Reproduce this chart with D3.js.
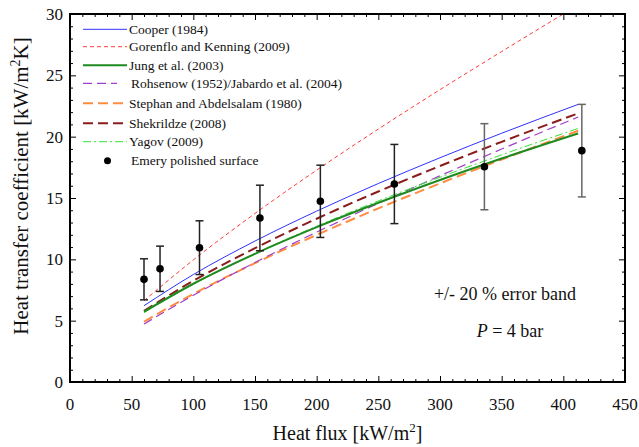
<!DOCTYPE html>
<html lang="en">
<head>
    <meta charset="UTF-8">
    <title>Heat transfer coefficient vs heat flux</title>
    <style>
        body { margin: 0; background: #fff; }
        svg text { font-family: "Liberation Serif", "Tinos", "Times New Roman", "DejaVu Serif", serif; fill: #111; }
        .curve { fill: none; }
    </style>
</head>
<body>
    <svg id="chart" width="639" height="447" font-family="Liberation Serif, DejaVu Serif, serif"></svg>

    <script src="https://d3js.org/d3.v7.min.js"></script>
    <script>
        // heat flux grid used for the correlation curves [kW/m2]
        const fluxGrid = [60, 100, 150, 200, 250, 300, 350, 412];
        const gorenfloFlux = [60, 100, 150, 200, 250, 300, 350, 400];

        // correlation values [kW/m2K]
        const cooper = [6.22, 8.76, 11.49, 13.93, 16.18, 18.28, 20.28, 22.63];
        const gorenflo = [6.63, 9.95, 13.74, 17.27, 20.62, 23.83, 26.94, 30.0];
        const jung = [5.73, 8.01, 10.45, 12.62, 14.61, 16.47, 18.22, 20.26];
        const rohsenow = [4.73, 7.07, 9.74, 12.22, 14.56, 16.81, 18.99, 21.6];
        const stephan = [4.92, 7.18, 9.69, 11.99, 14.15, 16.19, 18.14, 20.48];
        const shekrildze = [5.8, 8.25, 10.91, 13.31, 15.53, 17.61, 19.58, 21.9];
        const yagov = [5.65, 7.97, 10.47, 12.70, 14.76, 16.69, 18.52, 20.67];

        // measured points, emery polished surface
        const expFlux = [60, 73, 105, 154, 203, 263, 336, 415];
        const expHtc = [8.37, 9.23, 10.95, 13.37, 14.73, 16.14, 17.55, 18.86];
        const errorBand = 0.2;

        const xTicks = [0, 50, 100, 150, 200, 250, 300, 350, 400, 450];
        const yTicks = [0, 5, 10, 15, 20, 25, 30];

        const series = [
            { name: "Cooper (1984)", x: fluxGrid, y: cooper, color: "#3030ff", width: 1, dash: null },
            { name: "Gorenflo and Kenning (2009)", x: gorenfloFlux, y: gorenflo, color: "#ff3b3b", width: 1, dash: "4,3" },
            { name: "Jung et al. (2003)", x: fluxGrid, y: jung, color: "#1f8a1f", width: 2, dash: null },
            { name: "Rohsenow (1952)/Jabardo et al. (2004)", x: fluxGrid, y: rohsenow, color: "#a040c8", width: 1.2, dash: "9,5" },
            { name: "Stephan and Abdelsalam (1980)", x: fluxGrid, y: stephan, color: "#ff8c40", width: 2, dash: "10,5" },
            { name: "Shekrildze (2008)", x: fluxGrid, y: shekrildze, color: "#8b1c1c", width: 2, dash: "10,5" },
            { name: "Yagov (2009)", x: fluxGrid, y: yagov, color: "#33e633", width: 1, dash: "8,3,2,3" }
        ];

        const svg = d3.select("#chart");
        const plotL = 70, plotR = 625, plotT = 14, plotB = 382;

        const x = d3.scaleLinear().domain([0, 450]).range([plotL, plotR]);
        const y = d3.scaleLinear().domain([0, 30]).range([plotB, plotT]);

        svg.append("clipPath").attr("id", "plotClip")
            .append("rect")
            .attr("x", plotL).attr("y", plotT)
            .attr("width", plotR - plotL).attr("height", plotB - plotT);

        // curves
        const line = d3.line()
            .x(d => x(d[0]))
            .y(d => y(d[1]))
            .curve(d3.curveMonotoneX);

        const plot = svg.append("g").attr("clip-path", "url(#plotClip)");

        // draw order roughly as in the original
        [1, 4, 3, 6, 5, 2, 0].forEach(i => {
            const s = series[i];
            plot.append("path")
                .attr("class", "curve")
                .attr("d", line(s.x.map((v, j) => [v, s.y[j]])))
                .attr("stroke", s.color)
                .attr("stroke-width", s.width)
                .attr("stroke-dasharray", s.dash);
        });

        // error bars and points
        const pts = expFlux.map((v, i) => ({ q: v, h: expHtc[i] }));
        const bars = svg.append("g");
        pts.forEach((p, i) => {
            const c = i < 6 ? "#222" : "#666";
            const hi = y(p.h * (1 + errorBand)), lo = y(p.h * (1 - errorBand));
            bars.append("line")
                .attr("x1", x(p.q)).attr("x2", x(p.q))
                .attr("y1", hi).attr("y2", lo)
                .attr("stroke", c).attr("stroke-width", 1.5);
            [hi, lo].forEach(yy => {
                bars.append("line")
                    .attr("x1", x(p.q) - 4).attr("x2", x(p.q) + 4)
                    .attr("y1", yy).attr("y2", yy)
                    .attr("stroke", c).attr("stroke-width", 1.5);
            });
        });
        svg.append("g").selectAll("circle")
            .data(pts)
            .join("circle")
            .attr("cx", d => x(d.q))
            .attr("cy", d => y(d.h))
            .attr("r", 3.8)
            .attr("fill", "#000");

        // axes with inward ticks on all four sides
        const minorX = d3.range(0, 451, 10).filter(v => v % 50 !== 0);
        const minorY = d3.range(0, 31, 1).filter(v => v % 5 !== 0);

        function tickAxis(axisFn, scale, values, size, transform) {
            svg.append("g")
                .attr("transform", transform)
                .call(axisFn(scale).tickValues(values).tickSize(size).tickFormat(""))
                .call(g => g.select(".domain").remove())
                .call(g => g.selectAll("line").attr("stroke", "#000").attr("stroke-width", 1));
        }
        tickAxis(d3.axisTop, x, xTicks, 6, `translate(0,${plotB})`);
        tickAxis(d3.axisTop, x, minorX, 3, `translate(0,${plotB})`);
        tickAxis(d3.axisBottom, x, xTicks, 6, `translate(0,${plotT})`);
        tickAxis(d3.axisBottom, x, minorX, 3, `translate(0,${plotT})`);
        tickAxis(d3.axisRight, y, yTicks, 6, `translate(${plotL},0)`);
        tickAxis(d3.axisRight, y, minorY, 3, `translate(${plotL},0)`);
        tickAxis(d3.axisLeft, y, yTicks, 6, `translate(${plotR},0)`);
        tickAxis(d3.axisLeft, y, minorY, 3, `translate(${plotR},0)`);

        // frame
        svg.append("rect")
            .attr("x", plotL).attr("y", plotT)
            .attr("width", plotR - plotL).attr("height", plotB - plotT)
            .attr("fill", "none").attr("stroke", "#000").attr("stroke-width", 2);

        // tick labels
        svg.append("g").selectAll("text")
            .data(xTicks)
            .join("text")
            .attr("x", d => x(d))
            .attr("y", 410)
            .attr("text-anchor", "middle")
            .style("font-size", "17px")
            .text(d => d);

        svg.append("g").selectAll("text")
            .data(yTicks)
            .join("text")
            .attr("x", plotL - 7)
            .attr("y", d => y(d) + 6)
            .attr("text-anchor", "end")
            .style("font-size", "17px")
            .text(d => d);

        // axis titles
        const xt = svg.append("text")
            .attr("x", (plotL + plotR) / 2)
            .attr("y", 440)
            .attr("text-anchor", "middle")
            .style("font-size", "20px");
        xt.append("tspan").text("Heat flux [kW/m");
        xt.append("tspan").attr("dy", -8).style("font-size", "13px").text("2");
        xt.append("tspan").attr("dy", 8).text("]");

        const yt = svg.append("text")
            .attr("transform", "translate(28,186) rotate(-90)")
            .attr("text-anchor", "middle")
            .style("font-size", "21px");
        yt.append("tspan").text("Heat transfer coefficient [kW/m");
        yt.append("tspan").attr("dy", -8).style("font-size", "14px").text("2");
        yt.append("tspan").attr("dy", 8).text("K]");

        // legend
        const legendY = [29.3, 46.7, 65.3, 83.3, 103.3, 123.3, 141.7];
        const legend = svg.append("g");
        series.forEach((s, i) => {
            const ly = legendY[i];
            legend.append("line")
                .attr("x1", 83).attr("x2", i === 3 ? 117 : 127)
                .attr("y1", ly).attr("y2", ly)
                .attr("stroke", s.color)
                .attr("stroke-width", s.width)
                .attr("stroke-dasharray", s.dash);
            legend.append("text")
                .attr("x", i === 3 ? 131 : 129)
                .attr("y", ly + 4.5)
                .style("font-size", "13.5px")
                .text(s.name);
        });
        legend.append("circle")
            .attr("cx", 107.5).attr("cy", 160.7).attr("r", 3.5).attr("fill", "#000");
        legend.append("text")
            .attr("x", 131).attr("y", 165.2)
            .style("font-size", "13.5px")
            .text("Emery polished surface");

        // annotations
        svg.append("text")
            .attr("x", 505).attr("y", 300)
            .attr("text-anchor", "middle")
            .style("font-size", "18px")
            .text("+/- 20 % error band");
        const pt = svg.append("text")
            .attr("x", 510).attr("y", 337)
            .attr("text-anchor", "middle")
            .style("font-size", "18px");
        pt.append("tspan").style("font-style", "italic").text("P");
        pt.append("tspan").text(" = 4 bar");
    </script>
</body>
</html>
